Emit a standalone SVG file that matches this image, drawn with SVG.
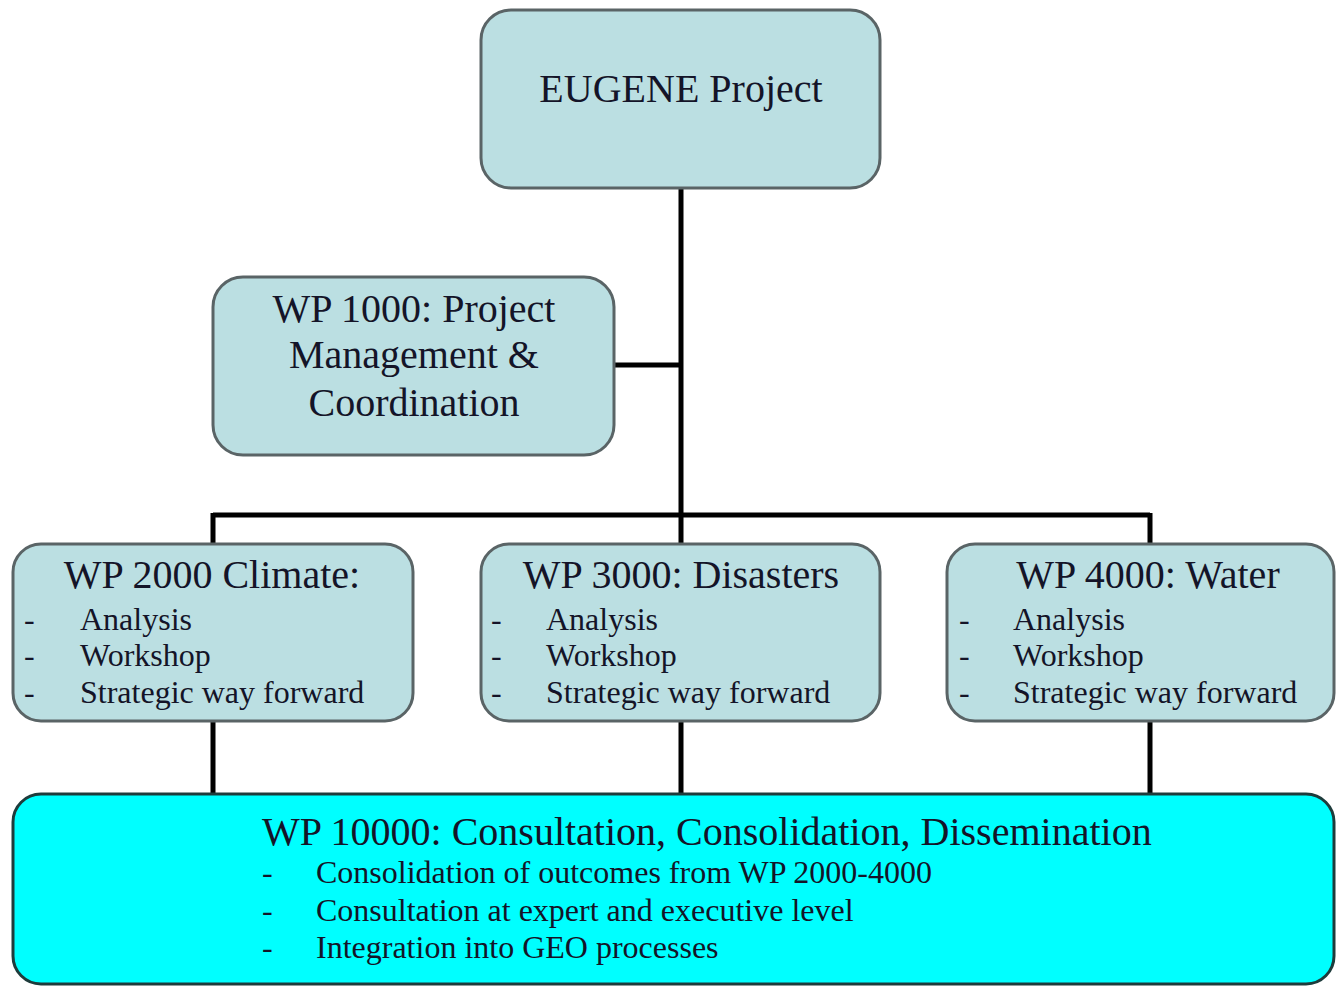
<svg xmlns="http://www.w3.org/2000/svg" width="1336" height="986" viewBox="0 0 1336 986">
<style>
.box{fill:#bbdfe2;stroke:#5a6466;stroke-width:3}
.cyan{fill:#00ffff;stroke:#1e3c3c;stroke-width:3}
.line{stroke:#000;stroke-width:5;fill:none}
</style>
<rect width="1336" height="986" fill="#fff"/>
<g id="connectors">
<path class="line" d="M681 188V545M614 365H681M213 515H1150M213 513V545M1150 513V545"/>
<path class="line" d="M213 720V795M681 720V795M1150 720V795"/>
</g>
<g id="eugene">
<rect class="box" x="481" y="10" width="399" height="178" rx="30"/>
<text x="681" y="102" font-family="Liberation Serif" font-size="40" text-anchor="middle" fill="#141428">EUGENE Project</text>
</g>
<g id="wp1000">
<rect class="box" x="213" y="277" width="401" height="178" rx="30"/>
<text x="414" y="322" font-family="Liberation Serif" font-size="40" text-anchor="middle" fill="#141428">WP 1000: Project</text>
<text x="414" y="368" font-family="Liberation Serif" font-size="40" text-anchor="middle" fill="#141428">Management &amp;</text>
<text x="414" y="416" font-family="Liberation Serif" font-size="40" text-anchor="middle" fill="#141428">Coordination</text>
</g>
<g id="wp2000">
<rect class="box" x="13" y="544" width="400" height="177" rx="28"/>
<text x="212" y="588" font-family="Liberation Serif" font-size="40" text-anchor="middle" fill="#141428">WP 2000 Climate:</text>
<text x="24" y="630" font-family="Liberation Serif" font-size="32" fill="#141428">-</text>
<text x="80" y="630" font-family="Liberation Serif" font-size="32" fill="#141428">Analysis</text>
<text x="24" y="666" font-family="Liberation Serif" font-size="32" fill="#141428">-</text>
<text x="80" y="666" font-family="Liberation Serif" font-size="32" fill="#141428">Workshop</text>
<text x="24" y="703" font-family="Liberation Serif" font-size="32" fill="#141428">-</text>
<text x="80" y="703" font-family="Liberation Serif" font-size="32" fill="#141428">Strategic way forward</text>
</g>
<g id="wp3000">
<rect class="box" x="481" y="544" width="399" height="177" rx="28"/>
<text x="681" y="588" font-family="Liberation Serif" font-size="40" text-anchor="middle" fill="#141428">WP 3000: Disasters</text>
<text x="491" y="630" font-family="Liberation Serif" font-size="32" fill="#141428">-</text>
<text x="546" y="630" font-family="Liberation Serif" font-size="32" fill="#141428">Analysis</text>
<text x="491" y="666" font-family="Liberation Serif" font-size="32" fill="#141428">-</text>
<text x="546" y="666" font-family="Liberation Serif" font-size="32" fill="#141428">Workshop</text>
<text x="491" y="703" font-family="Liberation Serif" font-size="32" fill="#141428">-</text>
<text x="546" y="703" font-family="Liberation Serif" font-size="32" fill="#141428">Strategic way forward</text>
</g>
<g id="wp4000">
<rect class="box" x="947" y="544" width="387" height="177" rx="28"/>
<text x="1148" y="588" font-family="Liberation Serif" font-size="40" text-anchor="middle" fill="#141428">WP 4000: Water</text>
<text x="959" y="630" font-family="Liberation Serif" font-size="32" fill="#141428">-</text>
<text x="1013" y="630" font-family="Liberation Serif" font-size="32" fill="#141428">Analysis</text>
<text x="959" y="666" font-family="Liberation Serif" font-size="32" fill="#141428">-</text>
<text x="1013" y="666" font-family="Liberation Serif" font-size="32" fill="#141428">Workshop</text>
<text x="959" y="703" font-family="Liberation Serif" font-size="32" fill="#141428">-</text>
<text x="1013" y="703" font-family="Liberation Serif" font-size="32" fill="#141428">Strategic way forward</text>
</g>
<g id="wp10000">
<rect class="cyan" x="13" y="794" width="1321" height="190" rx="28"/>
<text x="262" y="845" font-family="Liberation Serif" font-size="40" fill="#141428">WP 10000: Consultation, Consolidation, Dissemination</text>
<text x="262" y="883" font-family="Liberation Serif" font-size="32" fill="#141428">-</text>
<text x="316" y="883" font-family="Liberation Serif" font-size="32" fill="#141428">Consolidation of outcomes from WP 2000-4000</text>
<text x="262" y="921" font-family="Liberation Serif" font-size="32" fill="#141428">-</text>
<text x="316" y="921" font-family="Liberation Serif" font-size="32" fill="#141428">Consultation at expert and executive level</text>
<text x="262" y="958" font-family="Liberation Serif" font-size="32" fill="#141428">-</text>
<text x="316" y="958" font-family="Liberation Serif" font-size="32" fill="#141428">Integration into GEO processes</text>
</g>
</svg>
